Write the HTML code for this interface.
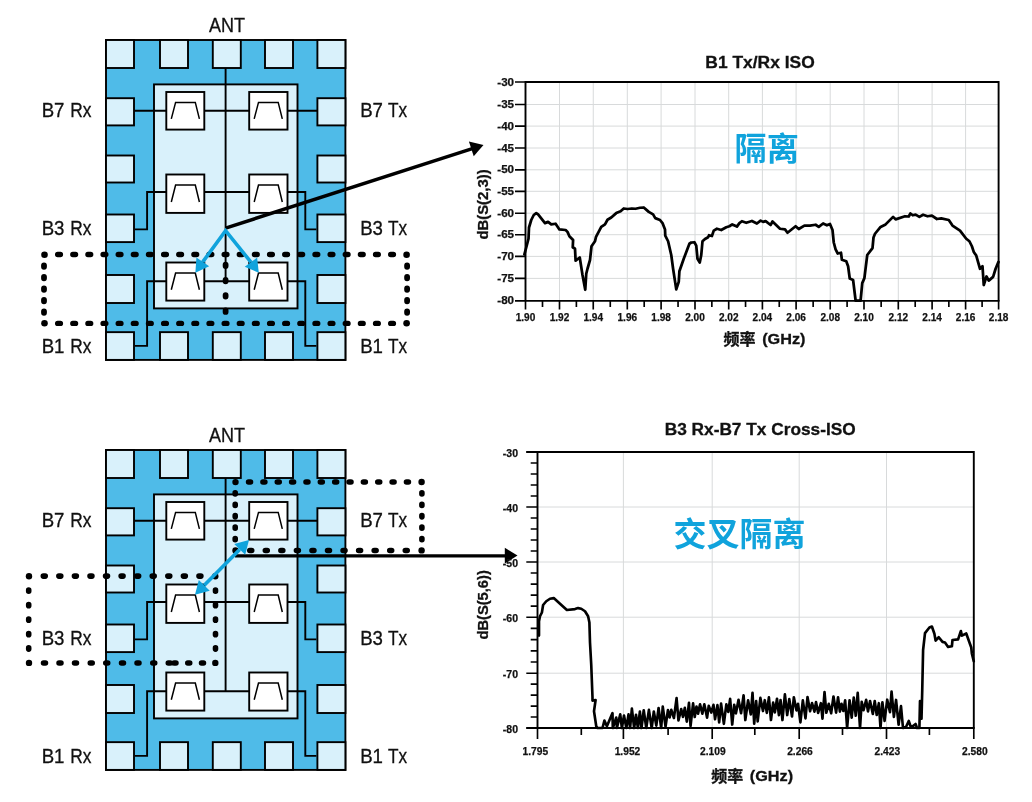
<!DOCTYPE html>
<html lang="zh"><head><meta charset="utf-8"><title>Isolation</title>
<style>html,body{margin:0;padding:0;background:#fff}svg{display:block}</style></head><body>
<svg width="1032" height="802" viewBox="0 0 1032 802">
<rect width="1032" height="802" fill="#fff"/>
<g transform="translate(0,0)" stroke="#000" stroke-width="1.9" fill="none">
<rect x="106" y="40" width="239.4" height="319.9" fill="#4FBBE8"/>
<rect x="106" y="40" width="28" height="28" fill="#D9F1FB"/>
<rect x="106" y="332.15" width="28" height="27.75" fill="#D9F1FB"/>
<rect x="160" y="40" width="28" height="28" fill="#D9F1FB"/>
<rect x="160" y="332.15" width="28" height="27.75" fill="#D9F1FB"/>
<rect x="212.8" y="40" width="28" height="28" fill="#D9F1FB"/>
<rect x="212.8" y="332.15" width="28" height="27.75" fill="#D9F1FB"/>
<rect x="265" y="40" width="28" height="28" fill="#D9F1FB"/>
<rect x="265" y="332.15" width="28" height="27.75" fill="#D9F1FB"/>
<rect x="317.4" y="40" width="28" height="28" fill="#D9F1FB"/>
<rect x="317.4" y="332.15" width="28" height="27.75" fill="#D9F1FB"/>
<rect x="106" y="98.2" width="28" height="27.2" fill="#D9F1FB"/>
<rect x="317.4" y="98.2" width="28" height="27.2" fill="#D9F1FB"/>
<rect x="106" y="155.5" width="28" height="27" fill="#D9F1FB"/>
<rect x="317.4" y="155.5" width="28" height="27" fill="#D9F1FB"/>
<rect x="106" y="214.5" width="28" height="27.6" fill="#D9F1FB"/>
<rect x="317.4" y="214.5" width="28" height="27.6" fill="#D9F1FB"/>
<rect x="106" y="275" width="28" height="28" fill="#D9F1FB"/>
<rect x="317.4" y="275" width="28" height="28" fill="#D9F1FB"/>
<rect x="154" y="84.4" width="143.5" height="224" fill="#D9F1FB"/>
<path d="M225.6 68V281.2"/>
<path d="M134 110.8H317.4"/>
<path d="M135 229.4H147.1V192H305.3V229.4H316.4"/>
<path d="M135 345.85H147.1V281.2H305.3V345.85H316.4"/>
<rect x="166.3" y="92" width="38" height="37.6" fill="#fff"/>
<path d="M171.3 118.9 L175.6 102.4 L195.3 102.4 L199.4 118.9" stroke-width="1.5"/>
<rect x="249.2" y="92" width="38.3" height="37.6" fill="#fff"/>
<path d="M254.2 118.9 L258.5 102.4 L278.2 102.4 L282.3 118.9" stroke-width="1.5"/>
<rect x="166.3" y="174.5" width="38" height="38.4" fill="#fff"/>
<path d="M171.3 201.97 L175.6 185.12 L195.3 185.12 L199.4 201.97" stroke-width="1.5"/>
<rect x="249.2" y="174.5" width="38.3" height="38.4" fill="#fff"/>
<path d="M254.2 201.97 L258.5 185.12 L278.2 185.12 L282.3 201.97" stroke-width="1.5"/>
<rect x="166.3" y="262.5" width="38" height="38.1" fill="#fff"/>
<path d="M171.3 289.76 L175.6 273.04 L195.3 273.04 L199.4 289.76" stroke-width="1.5"/>
<rect x="249.2" y="262.5" width="38.3" height="38.1" fill="#fff"/>
<path d="M254.2 289.76 L258.5 273.04 L278.2 273.04 L282.3 289.76" stroke-width="1.5"/>
</g>
<g transform="translate(0,0)" font-family="'Liberation Sans', sans-serif" font-size="19.8" fill="#111" stroke="#111" stroke-width="0.3">
<text x="209" y="31.8" font-size="20" textLength="36" lengthAdjust="spacingAndGlyphs">ANT</text>
<text x="41.7" y="116.7" textLength="22.8" lengthAdjust="spacingAndGlyphs">B7</text>
<text x="70.3" y="116.7" textLength="21.2" lengthAdjust="spacingAndGlyphs">Rx</text>
<text x="360.2" y="116.7" textLength="22.8" lengthAdjust="spacingAndGlyphs">B7</text>
<text x="387.9" y="116.7" textLength="19.1" lengthAdjust="spacingAndGlyphs">Tx</text>
<text x="41.7" y="234.8" textLength="22.8" lengthAdjust="spacingAndGlyphs">B3</text>
<text x="70.3" y="234.8" textLength="21.2" lengthAdjust="spacingAndGlyphs">Rx</text>
<text x="360.2" y="234.8" textLength="22.8" lengthAdjust="spacingAndGlyphs">B3</text>
<text x="387.9" y="234.8" textLength="19.1" lengthAdjust="spacingAndGlyphs">Tx</text>
<text x="41.7" y="352.6" textLength="22.8" lengthAdjust="spacingAndGlyphs">B1</text>
<text x="70.3" y="352.6" textLength="21.2" lengthAdjust="spacingAndGlyphs">Rx</text>
<text x="360.2" y="352.6" textLength="22.8" lengthAdjust="spacingAndGlyphs">B1</text>
<text x="387.9" y="352.6" textLength="19.1" lengthAdjust="spacingAndGlyphs">Tx</text>
</g>
<path d="M57.69 254.45h2.7M72.83 254.45h2.7M87.96 254.45h2.7M103.1 254.45h2.7M118.24 254.45h2.7M133.38 254.45h2.7M148.51 254.45h2.7M163.65 254.45h2.7M178.79 254.45h2.7M193.93 254.45h2.7M209.06 254.45h2.7M224.2 254.45h2.7M239.34 254.45h2.7M254.47 254.45h2.7M269.61 254.45h2.7M284.75 254.45h2.7M299.89 254.45h2.7M315.02 254.45h2.7M330.16 254.45h2.7M345.3 254.45h2.7M360.44 254.45h2.7M375.57 254.45h2.7M390.71 254.45h2.7M57.69 323.4h2.7M72.83 323.4h2.7M87.96 323.4h2.7M103.1 323.4h2.7M118.24 323.4h2.7M133.38 323.4h2.7M148.51 323.4h2.7M163.65 323.4h2.7M178.79 323.4h2.7M193.93 323.4h2.7M209.06 323.4h2.7M224.2 323.4h2.7M239.34 323.4h2.7M254.47 323.4h2.7M269.61 323.4h2.7M284.75 323.4h2.7M299.89 323.4h2.7M315.02 323.4h2.7M330.16 323.4h2.7M345.3 323.4h2.7M360.44 323.4h2.7M375.57 323.4h2.7M390.71 323.4h2.7" stroke="#000" stroke-width="5.4" stroke-linecap="round" fill="none"/>
<path d="M44 265.35v1.5M44 276.85v1.5M44 288.35v1.5M44 299.85v1.5M44 311.35v1.5M407.1 265.35v1.5M407.1 276.85v1.5M407.1 288.35v1.5M407.1 299.85v1.5M407.1 311.35v1.5M225.6 264.55v1.5M225.6 279.85v1.5M225.6 295.05v1.5M225.6 310.45v1.5" stroke="#000" stroke-width="5.8" stroke-linecap="round" fill="none"/>
<circle cx="44.5" cy="254.8" r="3.3" fill="#000"/>
<circle cx="406.6" cy="254.8" r="3.3" fill="#000"/>
<circle cx="44.5" cy="323.2" r="3.3" fill="#000"/>
<circle cx="406.6" cy="323.2" r="3.3" fill="#000"/>
<path d="M225.6 228.1L472.32 148.63" stroke="#000" stroke-width="3.5" fill="none"/>
<g fill="#000"><polygon points="483.5,145 473.71,156.35 468.92,141.5"/></g>
<path d="M202.79 261.86L225.6 230.7L250.93 262.2" stroke="#10A3DC" stroke-width="3.6" stroke-linejoin="miter" fill="none"/>
<g fill="#10A3DC"><polygon points="195.4,272.8 196.41,257.55 209.17,266.17"/><polygon points="258.8,272.8 244.75,266.79 257.11,257.61"/></g>
<g transform="translate(0,410)" stroke="#000" stroke-width="1.9" fill="none">
<rect x="106" y="40" width="239.4" height="319.9" fill="#4FBBE8"/>
<rect x="106" y="40" width="28" height="28" fill="#D9F1FB"/>
<rect x="106" y="332.15" width="28" height="27.75" fill="#D9F1FB"/>
<rect x="160" y="40" width="28" height="28" fill="#D9F1FB"/>
<rect x="160" y="332.15" width="28" height="27.75" fill="#D9F1FB"/>
<rect x="212.8" y="40" width="28" height="28" fill="#D9F1FB"/>
<rect x="212.8" y="332.15" width="28" height="27.75" fill="#D9F1FB"/>
<rect x="265" y="40" width="28" height="28" fill="#D9F1FB"/>
<rect x="265" y="332.15" width="28" height="27.75" fill="#D9F1FB"/>
<rect x="317.4" y="40" width="28" height="28" fill="#D9F1FB"/>
<rect x="317.4" y="332.15" width="28" height="27.75" fill="#D9F1FB"/>
<rect x="106" y="98.2" width="28" height="27.2" fill="#D9F1FB"/>
<rect x="317.4" y="98.2" width="28" height="27.2" fill="#D9F1FB"/>
<rect x="106" y="155.5" width="28" height="27" fill="#D9F1FB"/>
<rect x="317.4" y="155.5" width="28" height="27" fill="#D9F1FB"/>
<rect x="106" y="214.5" width="28" height="27.6" fill="#D9F1FB"/>
<rect x="317.4" y="214.5" width="28" height="27.6" fill="#D9F1FB"/>
<rect x="106" y="275" width="28" height="28" fill="#D9F1FB"/>
<rect x="317.4" y="275" width="28" height="28" fill="#D9F1FB"/>
<rect x="154" y="84.4" width="143.5" height="224" fill="#D9F1FB"/>
<path d="M225.6 68V281.2"/>
<path d="M134 110.8H317.4"/>
<path d="M135 229.4H147.1V192H305.3V229.4H316.4"/>
<path d="M135 345.85H147.1V281.2H305.3V345.85H316.4"/>
<rect x="166.3" y="92" width="38" height="37.6" fill="#fff"/>
<path d="M171.3 118.9 L175.6 102.4 L195.3 102.4 L199.4 118.9" stroke-width="1.5"/>
<rect x="249.2" y="92" width="38.3" height="37.6" fill="#fff"/>
<path d="M254.2 118.9 L258.5 102.4 L278.2 102.4 L282.3 118.9" stroke-width="1.5"/>
<rect x="166.3" y="174.5" width="38" height="38.4" fill="#fff"/>
<path d="M171.3 201.97 L175.6 185.12 L195.3 185.12 L199.4 201.97" stroke-width="1.5"/>
<rect x="249.2" y="174.5" width="38.3" height="38.4" fill="#fff"/>
<path d="M254.2 201.97 L258.5 185.12 L278.2 185.12 L282.3 201.97" stroke-width="1.5"/>
<rect x="166.3" y="262.5" width="38" height="38.1" fill="#fff"/>
<path d="M171.3 289.76 L175.6 273.04 L195.3 273.04 L199.4 289.76" stroke-width="1.5"/>
<rect x="249.2" y="262.5" width="38.3" height="38.1" fill="#fff"/>
<path d="M254.2 289.76 L258.5 273.04 L278.2 273.04 L282.3 289.76" stroke-width="1.5"/>
</g>
<g transform="translate(0,410)" font-family="'Liberation Sans', sans-serif" font-size="19.8" fill="#111" stroke="#111" stroke-width="0.3">
<text x="209" y="31.8" font-size="20" textLength="36" lengthAdjust="spacingAndGlyphs">ANT</text>
<text x="41.7" y="116.7" textLength="22.8" lengthAdjust="spacingAndGlyphs">B7</text>
<text x="70.3" y="116.7" textLength="21.2" lengthAdjust="spacingAndGlyphs">Rx</text>
<text x="360.2" y="116.7" textLength="22.8" lengthAdjust="spacingAndGlyphs">B7</text>
<text x="387.9" y="116.7" textLength="19.1" lengthAdjust="spacingAndGlyphs">Tx</text>
<text x="41.7" y="234.8" textLength="22.8" lengthAdjust="spacingAndGlyphs">B3</text>
<text x="70.3" y="234.8" textLength="21.2" lengthAdjust="spacingAndGlyphs">Rx</text>
<text x="360.2" y="234.8" textLength="22.8" lengthAdjust="spacingAndGlyphs">B3</text>
<text x="387.9" y="234.8" textLength="19.1" lengthAdjust="spacingAndGlyphs">Tx</text>
<text x="41.7" y="352.6" textLength="22.8" lengthAdjust="spacingAndGlyphs">B1</text>
<text x="70.3" y="352.6" textLength="21.2" lengthAdjust="spacingAndGlyphs">Rx</text>
<text x="360.2" y="352.6" textLength="22.8" lengthAdjust="spacingAndGlyphs">B1</text>
<text x="387.9" y="352.6" textLength="19.1" lengthAdjust="spacingAndGlyphs">Tx</text>
</g>
<path d="M248.6 482h1.9M262.96 482h1.9M277.31 482h1.9M291.67 482h1.9M306.02 482h1.9M320.37 482h1.9M334.73 482h1.9M349.08 482h1.9M363.43 482h1.9M377.79 482h1.9M392.14 482h1.9M406.5 482h1.9M249.8 550.5h1.9M265.35 550.5h1.9M280.9 550.5h1.9M296.45 550.5h1.9M312 550.5h1.9M327.55 550.5h1.9M343.1 550.5h1.9M358.65 550.5h1.9M374.2 550.5h1.9M389.75 550.5h1.9M405.3 550.5h1.9M43.32 576.1h1.9M58.88 576.1h1.9M74.45 576.1h1.9M90.02 576.1h1.9M105.58 576.1h1.9M121.15 576.1h1.9M136.72 576.1h1.9M152.28 576.1h1.9M167.85 576.1h1.9M183.42 576.1h1.9M198.98 576.1h1.9M43.55 663h1.9M59.05 663h1.9M74.55 663h1.9M90.3 663h1.9M105.8 663h1.9M121.55 663h1.9M137.05 663h1.9M152.8 663h1.9M168.3 663h1.9M174.05 663h1.9M187.8 663h1.9M201.55 663h1.9" stroke="#000" stroke-width="5.6" stroke-linecap="round" fill="none"/>
<path d="M235.2 492.82v1.2M235.2 504.23v1.2M235.2 515.65v1.2M235.2 527.07v1.2M235.2 538.48v1.2M421.9 492.82v1.2M421.9 504.23v1.2M421.9 515.65v1.2M421.9 527.07v1.2M421.9 538.48v1.2M28.7 589.98v1.2M28.7 604.47v1.2M28.7 618.95v1.2M28.7 633.43v1.2M28.7 647.92v1.2M215.5 589.98v1.2M215.5 604.47v1.2M215.5 618.95v1.2M215.5 633.43v1.2M215.5 647.92v1.2" stroke="#000" stroke-width="5.6" stroke-linecap="round" fill="none"/>
<circle cx="235.5" cy="482.1" r="3.2" fill="#000"/>
<circle cx="421.6" cy="482" r="3.2" fill="#000"/>
<circle cx="235.5" cy="550.4" r="3.2" fill="#000"/>
<circle cx="421.6" cy="550.4" r="3.2" fill="#000"/>
<circle cx="29" cy="576.2" r="3.2" fill="#000"/>
<circle cx="215.3" cy="576.2" r="3.2" fill="#000"/>
<circle cx="29" cy="662.9" r="3.2" fill="#000"/>
<circle cx="215.3" cy="662.9" r="3.2" fill="#000"/>
<path d="M235 555.9H506" stroke="#000" stroke-width="3.3" fill="none"/>
<polygon points="517.5,555.6 504.8,547.8 504.8,563.4" fill="#000"/>
<path d="M239.73 549.4L204.27 585.35" stroke="#10A3DC" stroke-width="3.6" fill="none"/>
<g fill="#10A3DC"><polygon points="249,540 245.21,554.81 234.25,543.99"/><polygon points="195,594.75 198.79,579.94 209.75,590.76"/></g>
<path d="M559.5 82V300.9M593.25 82V300.9M627.3 82V300.9M661.1 82V300.9M695 82V300.9M728.7 82V300.9M762.4 82V300.9M796.1 82V300.9M830.2 82V300.9M864 82V300.9M898.3 82V300.9M932.1 82V300.9M965.6 82V300.9M525.5 104.5H998.6M525.5 126.1H998.6M525.5 148H998.6M525.5 169.8H998.6M525.5 191.3H998.6M525.5 213.2H998.6M525.5 234.7H998.6M525.5 256.4H998.6M525.5 278.4H998.6" stroke="#d8dadb" stroke-width="1" fill="none"/>
<path d="M524.4 254.4 L526.9 245 L528.5 238.75 L529 227.5 L531.25 220 L533.75 215 L536.25 213.1 L538.1 214.4 L545 223.1 L548.1 221.9 L551.25 224.4 L555.6 223.75 L559.4 229.4 L565.6 230 L567.5 231.9 L569.4 236.25 L573.1 240 L572.75 247.25 L575 248.75 L575.6 260.6 L579.75 257.5 L582.5 275 L585.25 289.75 L586.25 273.75 L587.5 268.75 L590 260 L591.5 246.25 L595 241.25 L596 236.9 L601.25 226.9 L605 224.4 L607.5 219.75 L611.25 217.5 L616.25 213.1 L620.6 211.25 L623.75 208.5 L627.5 209 L631.9 208.5 L635.6 208.75 L640 207.75 L643.75 207.5 L648.75 211.9 L653.1 214.4 L655.25 218.1 L660 220 L662.5 223.1 L665 229.4 L665.25 235.6 L668.1 241.25 L671.25 255 L673.1 268.75 L676.25 289.4 L678.75 281.9 L679.4 271.25 L683.75 258.75 L689.4 243.75 L691.25 242.5 L694.4 242.25 L696.25 245.6 L697.5 258.75 L699.75 262.5 L701.25 255 L702.5 241.25 L705 239 L708.1 237.25 L709 235.25 L711.9 236 L713.75 230.6 L716.9 228.75 L721.25 230 L726.25 227.25 L729.4 226.25 L732.25 224.4 L736.9 226.6 L739.4 223.1 L741.9 221.25 L746.25 222.75 L751.9 221 L756.9 223.5 L760.6 220.6 L763.1 221.9 L765.6 221.1 L770.6 225 L772.5 221.5 L780 228.75 L785 229.4 L787.5 232.75 L795.6 226.25 L798.75 229 L804.4 225.6 L810 225.6 L815.6 224.75 L818.75 226.9 L823.1 223.5 L826.9 225.25 L830 224 L832.5 230 L833.75 242.5 L835.6 249.4 L837.75 253.5 L841 252.75 L841.9 259.75 L846.25 261.25 L848.1 266.25 L849.75 278.5 L853.1 280 L855.6 300.5 L860.6 300.5 L862.25 283.1 L864.4 278.1 L867.25 255 L872.5 248.1 L873.5 237.5 L875 233.75 L880.6 226.9 L885.6 224.4 L893.1 216.9 L895.6 219.4 L905 216.25 L908.75 216.5 L910.4 213.5 L912.75 215.25 L915.6 214.6 L919.4 216.9 L923.1 214.75 L927.5 216.25 L931.9 215.6 L936.9 219 L941.25 218.4 L948.75 220 L952.5 225.6 L960 230.6 L966.25 238.75 L969.4 241.25 L971.9 246.25 L973.75 251.9 L976.25 255.6 L980 268.75 L982.5 266.25 L983.75 285 L986.5 276.5 L988.75 280.6 L993.1 276.9 L995.6 268.75 L998.5 261.9" stroke="#000" stroke-width="2.75" stroke-linejoin="round" stroke-linecap="round" fill="none"/>
<path d="M525.5 300.9V82H998.6V300.9" stroke="#000" stroke-width="1.9" fill="none"/>
<path d="M515 300.9H999.5" stroke="#000" stroke-width="1.9" fill="none"/>
<path d="M515 82H525.5M515 104.5H525.5M515 126.1H525.5M515 148H525.5M515 169.8H525.5M515 191.3H525.5M515 213.2H525.5M515 234.7H525.5M515 256.4H525.5M515 278.4H525.5M525.5 300.9v8.7M559.5 300.9v8.7M593.25 300.9v8.7M627.3 300.9v8.7M661.1 300.9v8.7M695 300.9v8.7M728.7 300.9v8.7M762.4 300.9v8.7M796.1 300.9v8.7M830.2 300.9v8.7M864 300.9v8.7M898.3 300.9v8.7M932.1 300.9v8.7M965.6 300.9v8.7M998.6 300.9v8.7M542.5 300.9v6M576.38 300.9v6M610.27 300.9v6M644.2 300.9v6M678.05 300.9v6M711.85 300.9v6M745.55 300.9v6M779.25 300.9v6M813.15 300.9v6M847.1 300.9v6M881.15 300.9v6M915.2 300.9v6M948.85 300.9v6M982.1 300.9v6" stroke="#000" stroke-width="1.65" fill="none"/>
<g font-family="'Liberation Sans', sans-serif" font-weight="bold" font-size="10.4" fill="#111" stroke="#111" stroke-width="0.25">
<text x="497.3" y="85.5" textLength="16.8" lengthAdjust="spacingAndGlyphs">-30</text>
<text x="497.3" y="108" textLength="16.8" lengthAdjust="spacingAndGlyphs">-35</text>
<text x="497.3" y="129.6" textLength="16.8" lengthAdjust="spacingAndGlyphs">-40</text>
<text x="497.3" y="151.5" textLength="16.8" lengthAdjust="spacingAndGlyphs">-45</text>
<text x="497.3" y="173.3" textLength="16.8" lengthAdjust="spacingAndGlyphs">-50</text>
<text x="497.3" y="194.8" textLength="16.8" lengthAdjust="spacingAndGlyphs">-55</text>
<text x="497.3" y="216.7" textLength="16.8" lengthAdjust="spacingAndGlyphs">-60</text>
<text x="497.3" y="238.2" textLength="16.8" lengthAdjust="spacingAndGlyphs">-65</text>
<text x="497.3" y="259.9" textLength="16.8" lengthAdjust="spacingAndGlyphs">-70</text>
<text x="497.3" y="281.9" textLength="16.8" lengthAdjust="spacingAndGlyphs">-75</text>
<text x="497.3" y="304.4" textLength="16.8" lengthAdjust="spacingAndGlyphs">-80</text>
<text x="515.7" y="321.4" textLength="19.6" lengthAdjust="spacingAndGlyphs">1.90</text>
<text x="549.7" y="321.4" textLength="19.6" lengthAdjust="spacingAndGlyphs">1.92</text>
<text x="583.45" y="321.4" textLength="19.6" lengthAdjust="spacingAndGlyphs">1.94</text>
<text x="617.5" y="321.4" textLength="19.6" lengthAdjust="spacingAndGlyphs">1.96</text>
<text x="651.3" y="321.4" textLength="19.6" lengthAdjust="spacingAndGlyphs">1.98</text>
<text x="685.2" y="321.4" textLength="19.6" lengthAdjust="spacingAndGlyphs">2.00</text>
<text x="718.9" y="321.4" textLength="19.6" lengthAdjust="spacingAndGlyphs">2.02</text>
<text x="752.6" y="321.4" textLength="19.6" lengthAdjust="spacingAndGlyphs">2.04</text>
<text x="786.3" y="321.4" textLength="19.6" lengthAdjust="spacingAndGlyphs">2.06</text>
<text x="820.4" y="321.4" textLength="19.6" lengthAdjust="spacingAndGlyphs">2.08</text>
<text x="854.2" y="321.4" textLength="19.6" lengthAdjust="spacingAndGlyphs">2.10</text>
<text x="888.5" y="321.4" textLength="19.6" lengthAdjust="spacingAndGlyphs">2.12</text>
<text x="922.3" y="321.4" textLength="19.6" lengthAdjust="spacingAndGlyphs">2.14</text>
<text x="955.8" y="321.4" textLength="19.6" lengthAdjust="spacingAndGlyphs">2.16</text>
<text x="988.8" y="321.4" textLength="19.6" lengthAdjust="spacingAndGlyphs">2.18</text>
</g>
<g font-family="'Liberation Sans', 'Noto Sans CJK SC', sans-serif" font-weight="bold" fill="#111" stroke="#111" stroke-width="0.3">
<text x="705.3" y="68" font-size="16.8" textLength="109.4" lengthAdjust="spacingAndGlyphs">B1 Tx/Rx ISO</text>
<text x="723.6" y="345" font-size="16">频率</text>
<text x="762.2" y="344.4" font-size="15.2" textLength="43.3" lengthAdjust="spacingAndGlyphs">(GHz)</text>
<text transform="translate(488.2,239.6) rotate(-90)" font-size="15" textLength="70.2" lengthAdjust="spacingAndGlyphs">dB(S(2,3))</text>
<text x="734.5" y="160.1" font-size="32.2" fill="#10A3DC" stroke="none">隔离</text>
</g>
<path d="M623.4 452V728M712.2 452V728M799.2 452V728M886.5 452V728M537.5 507H973.8M537.5 562H973.8M537.5 617.2H973.8M537.5 673.2H973.8" stroke="#d8dadb" stroke-width="1" fill="none"/>
<path d="M539 635.6 L539 621.25 L540 616.25 L541.9 612.5 L543.1 605 L546.25 601.25 L550 598.75 L553.75 598.1 L560 603.75 L566.9 610 L575 609.1 L578.1 608.1 L581.25 608.75 L585 611.25 L588.1 616.25 L589.4 622.5 L590 642.5 L591.25 665 L592.5 697.5 L592.5 700.6 L595.6 700 L594 711.25 L596.25 726.25 L597.5 728 L602.5 728 L604.4 720.6 L606.9 726.25 L612.5 713.1 L612.8 728 L616.25 717.5 L616.9 728 L620.25 714.4 L621.9 728 L624 715.55 L626.35 728 L628.51 714.35 L630.1 728 L631.89 708.6 L634.14 728 L636.01 714.72 L637.91 728 L639.9 711.53 L641.48 728 L643.74 710.28 L646.27 728 L648.91 709.93 L651.68 728 L653.82 711.46 L656.31 725.62 L658.58 707.97 L661.18 728 L662.76 706.63 L665.55 726.53 L667.92 710.11 L669.63 717.43 L671.3 709.84 L673.93 718 L676.58 698.09 L678.45 720.45 L681.19 709.1 L682.99 716.84 L684.83 707.87 L686.81 721.66 L688.98 702.84 L690.55 726 L693.09 703.37 L694.73 716.99 L696.5 706.47 L698.07 713.72 L700.04 704.38 L702.34 713.66 L704.31 704.27 L707.1 717.63 L708.73 705.83 L711.31 712.58 L713.5 704.79 L715.03 719.27 L717.44 705.15 L719.16 722.37 L721.08 703.66 L723.86 723.81 L726.33 704.32 L728.29 711.87 L730.13 698.88 L732.21 724.55 L734.18 704.85 L735.94 713.33 L738.53 699.74 L741.07 713.22 L743.59 695.26 L745.32 720.05 L748.08 700.33 L750.81 714.5 L752.51 692.91 L754.2 723.56 L756.15 701.07 L757.67 721.43 L760.39 697.93 L762.96 711.06 L764.77 700.19 L766.82 712.87 L768.91 697.43 L770.96 720.01 L773.14 702.68 L774.88 712.4 L776.99 698.77 L778.92 715.22 L780.56 700.01 L782.42 720.05 L784.9 694.34 L787.2 715.05 L789.29 699.09 L792.01 716.51 L793.85 697.23 L796.44 710.36 L798.04 703.78 L800.41 722.38 L802.84 700.43 L805.48 718.32 L807.5 697.04 L810.08 711.29 L812.03 703.04 L814.46 711.66 L815.99 702.13 L818.15 712.96 L820.92 703.2 L822.47 718.62 L824.52 692.09 L826.35 712.76 L828.76 703.83 L831.16 713.29 L833.48 696.5 L836.1 712.59 L838.04 697.29 L839.89 711.58 L841.53 703.85 L843.29 710.92 L845.17 700.29 L847.12 728 L849.57 700.24 L851.69 717.64 L853.75 697.66 L855.76 715.75 L857.71 692.76 L860.03 728 L861.7 701.78 L863.53 710.25 L866.17 699.87 L867.98 711.38 L870.06 701.11 L872.83 713.98 L874.73 701 L876.72 715.01 L878.88 703.21 L880.5 728 L882.39 702.24 L884.58 720.95 L887.22 699.7 L890 712.17 L891.56 691.65 L893.88 716.91 L896.06 699.95 L898.6 724.71 L900.99 706.07 L903 728 L906 727 L908.75 721 L911 727.5 L915.6 724 L917 728 L919.4 728 L920 701 L921.5 718.75 L922.25 690 L923.1 650 L925 633.1 L929.4 627.5 L931.9 626.5 L934.4 633.75 L935.6 640.6 L938.75 637.25 L942.5 641.9 L945 642.5 L948.1 646.9 L951.9 646.25 L952.5 640 L958.1 639.4 L960.9 631 L961.9 635.6 L966.25 633.5 L971.25 647.5 L971.9 653.75 L973.75 661.25" stroke="#000" stroke-width="2.65" stroke-linejoin="round" stroke-linecap="round" fill="none"/>
<path d="M537.5 728V452H973.8V728" stroke="#000" stroke-width="1.9" fill="none"/>
<path d="M526.3 728H974.7M526.3 452H537.5" stroke="#000" stroke-width="1.9" fill="none"/>
<path d="M526.3 452H537.5M530.7 463H537.5M530.7 474H537.5M530.7 485H537.5M530.7 496H537.5M526.3 507H537.5M530.7 518H537.5M530.7 529H537.5M530.7 540H537.5M530.7 551H537.5M526.3 562H537.5M530.7 573.04H537.5M530.7 584.08H537.5M530.7 595.12H537.5M530.7 606.16H537.5M526.3 617.2H537.5M530.7 628.4H537.5M530.7 639.6H537.5M530.7 650.8H537.5M530.7 662H537.5M526.3 673.2H537.5M530.7 684.16H537.5M530.7 695.12H537.5M530.7 706.08H537.5M530.7 717.04H537.5M526.3 728H537.5M537.5 728v11M623.4 728v11M712.2 728v11M799.2 728v11M886.5 728v11M973.8 728v11M581.3 728v7M668.1 728v7M754.8 728v7M842.5 728v7M929.4 728v7" stroke="#000" stroke-width="1.65" fill="none"/>
<g font-family="'Liberation Sans', sans-serif" font-weight="bold" font-size="10.4" fill="#111" stroke="#111" stroke-width="0.25">
<text x="502.8" y="457" textLength="15.2" lengthAdjust="spacingAndGlyphs">-30</text>
<text x="502.8" y="512" textLength="15.2" lengthAdjust="spacingAndGlyphs">-40</text>
<text x="502.8" y="567" textLength="15.2" lengthAdjust="spacingAndGlyphs">-50</text>
<text x="502.8" y="622.2" textLength="15.2" lengthAdjust="spacingAndGlyphs">-60</text>
<text x="502.8" y="678.2" textLength="15.2" lengthAdjust="spacingAndGlyphs">-70</text>
<text x="502.8" y="733" textLength="15.2" lengthAdjust="spacingAndGlyphs">-80</text>
<text x="522.5" y="754.7" textLength="25.6" lengthAdjust="spacingAndGlyphs">1.795</text>
<text x="614.7" y="754.7" textLength="25.6" lengthAdjust="spacingAndGlyphs">1.952</text>
<text x="700" y="754.7" textLength="25.6" lengthAdjust="spacingAndGlyphs">2.109</text>
<text x="787.2" y="754.7" textLength="25.6" lengthAdjust="spacingAndGlyphs">2.266</text>
<text x="874.5" y="754.7" textLength="25.6" lengthAdjust="spacingAndGlyphs">2.423</text>
<text x="962" y="754.7" textLength="25.6" lengthAdjust="spacingAndGlyphs">2.580</text>
</g>
<g font-family="'Liberation Sans', 'Noto Sans CJK SC', sans-serif" font-weight="bold" fill="#111" stroke="#111" stroke-width="0.3">
<text x="664.7" y="435" font-size="16.8" textLength="191" lengthAdjust="spacingAndGlyphs">B3 Rx-B7 Tx Cross-ISO</text>
<text x="711.2" y="781.6" font-size="16">频率</text>
<text x="749.8" y="781" font-size="15.2" textLength="43.3" lengthAdjust="spacingAndGlyphs">(GHz)</text>
<text transform="translate(488.4,639.6) rotate(-90)" font-size="15" textLength="69.4" lengthAdjust="spacingAndGlyphs">dB(S(5,6))</text>
<text x="673.6" y="545.6" font-size="33" fill="#10A3DC" stroke="none">交叉隔离</text>
</g>
</svg></body></html>
